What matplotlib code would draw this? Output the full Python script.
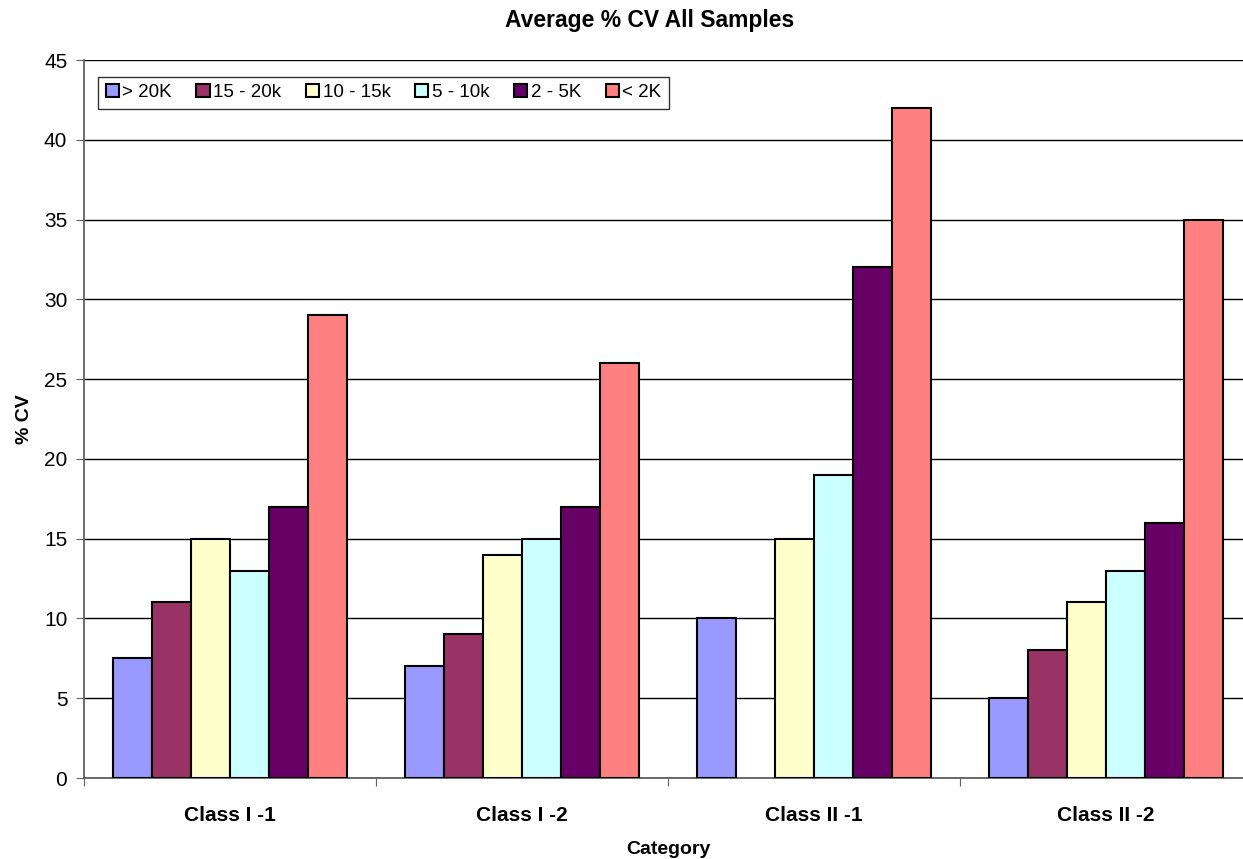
import numpy as np
import matplotlib.pyplot as plt
from matplotlib.ticker import MultipleLocator

plt.rcParams['font.family'] = ['Liberation Sans', 'DejaVu Sans']

# dados
categorias = ['Class I -1', 'Class I -2', 'Class II -1', 'Class II -2']
series = ['> 20K', '15 - 20k', '10 - 15k', '5 - 10k', '2 - 5K', '< 2K']
valores = [
    [7.5, 7, 10, 5],        # > 20K
    [11, 9, np.nan, 8],     # 15 - 20k
    [15, 14, 15, 11],       # 10 - 15k
    [13, 15, 19, 13],       # 5 - 10k
    [17, 17, 32, 16],       # 2 - 5K
    [29, 26, 42, 35],       # < 2K
]
cores = ['#9999FF', '#993366', '#FFFFCC', '#CCFFFF', '#660066', '#FF8080']

fig = plt.figure(figsize=(12.43, 8.59), dpi=100)
ax = fig.add_axes([84 / 1243, 81 / 859, (1252 - 84) / 1243, (778 - 60) / 859])

n = len(series)
gap = 1.5
largura = 1.0 / (n + gap)
x = np.arange(len(categorias))

for i, (nome, v, c) in enumerate(zip(series, valores, cores)):
    pos = x - 0.5 + largura * (gap / 2 + i + 0.5)
    ax.bar(pos, v, width=largura, color=c, edgecolor='black', linewidth=1.5,
           label=nome, zorder=3)

ax.set_xlim(-0.5, len(categorias) - 0.5)
ax.set_ylim(0, 45)
ax.yaxis.set_major_locator(MultipleLocator(5))
ax.grid(axis='y', color='black', linewidth=1.0, zorder=0)

# ticks do eixo x nas divisões entre categorias
ax.set_xticks(np.arange(-0.5, len(categorias) + 0.5, 1))
ax.set_xticklabels([])
ax.set_xticks(x, minor=True)
ax.set_xticklabels(categorias, minor=True, fontsize=15, fontweight='bold')
ax.tick_params(axis='x', which='minor', length=0, pad=20)
ax.tick_params(axis='x', which='major', length=6, color='#606060')
ax.tick_params(axis='y', length=6, color='#606060', labelsize=15, pad=6)

for lado in ['top', 'right']:
    ax.spines[lado].set_visible(False)
ax.spines['left'].set_color('#606060')
ax.spines['bottom'].set_color('#606060')
ax.spines['left'].set_linewidth(1.3)
ax.spines['bottom'].set_linewidth(1.3)

fig.text(650 / 1243, 1 - 20 / 859, 'Average % CV All Samples', fontsize=16.5,
         fontweight='bold', ha='center', va='center')
ax.set_ylabel('% CV', fontsize=14, fontweight='bold', labelpad=8)
ax.set_xlabel('Category', fontsize=14, fontweight='bold', labelpad=12)

leg = ax.legend(loc='upper left', bbox_to_anchor=(0.012, 0.977), ncol=6,
                fontsize=13.5, frameon=True, fancybox=False, edgecolor='black',
                handlelength=0.7, handleheight=0.7, handletextpad=0.2,
                columnspacing=1.3, borderpad=0.4, borderaxespad=0)
leg.get_frame().set_linewidth(1.0)

fig.savefig('out.png', dpi=100)
